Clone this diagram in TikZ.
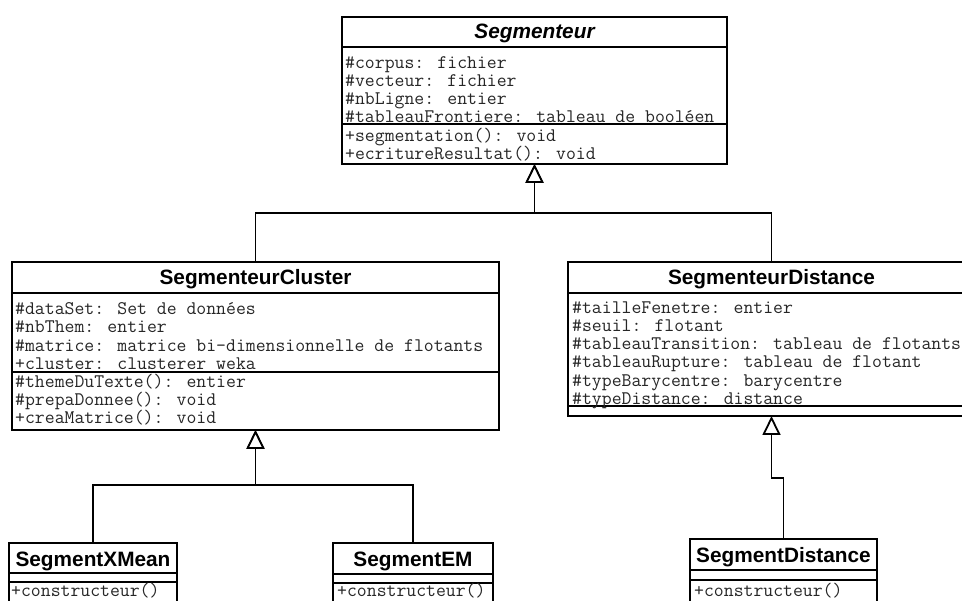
\documentclass[tikz,border=0pt]{standalone}
\usepackage{fontspec}
\newfontfamily\titlefont{Liberation Sans}
\usetikzlibrary{arrows.meta}
\tikzset{
  cls/.style={draw, line width=1.8pt, inner sep=0pt, outer sep=0pt, anchor=north west, fill=white},
  sepline/.style={line width=1.8pt},
  attr/.style={anchor=base west, inner sep=0pt, font=\fontsize{19.2}{20}\selectfont\ttfamily, text=black!85},
  ttl/.style={anchor=base, inner sep=0pt, font=\fontsize{20.8}{22}\selectfont\titlefont\bfseries},
  gen/.style={line width=1.8pt, -{Triangle[open, length=19pt, width=18pt, fill=white]}}
}
\begin{document}
\begin{tikzpicture}[x=1pt,y=-1pt]
\useasboundingbox (0,0) rectangle (962,601);
\clip (0,0) rectangle (962,601);

% ---- Segmenteur
\node[cls, minimum width=385pt, minimum height=147pt] (seg) at (342,17) {};
\draw[sepline] (342,47) -- (727,47);
\draw[sepline] (342,124) -- (727,124);
\node[ttl] (seg-t) at (534.5,39) {\itshape Segmenteur};
\node[attr] (seg-a1) at (345,69) {\#corpus: fichier};
\node[attr] (seg-a2) at (345,87) {\#vecteur: fichier};
\node[attr] (seg-a3) at (345,105) {\#nbLigne: entier};
\node[attr] (seg-a4) at (345,123) {\#tableauFrontiere: tableau de booléen};
\node[attr] (seg-m1) at (345,142) {+segmentation(): void};
\node[attr] (seg-m2) at (345,160) {+ecritureResultat(): void};

% ---- SegmenteurCluster
\node[cls, minimum width=487pt, minimum height=168pt] (clu) at (12,262) {};
\draw[sepline] (12,293) -- (499,293);
\draw[sepline] (12,372) -- (499,372);
\node[ttl] (clu-t) at (255.5,285) {SegmenteurCluster};
\node[attr] (clu-a1) at (15,315) {\#dataSet: Set de données};
\node[attr] (clu-a2) at (15,333) {\#nbThem: entier};
\node[attr] (clu-a3) at (15,352) {\#matrice: matrice bi-dimensionnelle de flotants};
\node[attr] (clu-a4) at (15,370) {+cluster: clusterer weka};
\node[attr] (clu-m1) at (15,388) {\#themeDuTexte(): entier};
\node[attr] (clu-m2) at (15,406) {\#prepaDonnee(): void};
\node[attr] (clu-m3) at (15,424) {+creaMatrice(): void};

% ---- SegmenteurDistance
\node[cls, minimum width=407pt, minimum height=154pt] (dist) at (568,262) {};
\draw[sepline] (568,293) -- (975,293);
\draw[sepline] (568,406) -- (975,406);
\node[ttl] (dist-t) at (771.5,285) {SegmenteurDistance};
\node[attr] (dist-a1) at (572,314) {\#tailleFenetre: entier};
\node[attr] (dist-a2) at (572,332) {\#seuil: flotant};
\node[attr] (dist-a3) at (572,350) {\#tableauTransition: tableau de flotants};
\node[attr] (dist-a4) at (572,368) {\#tableauRupture: tableau de flotant};
\node[attr] (dist-a5) at (572,387) {\#typeBarycentre: barycentre};
\node[attr] (dist-a6) at (572,405) {\#typeDistance: distance};

% ---- SegmentXMean
\node[cls, minimum width=168pt, minimum height=107pt] (xm) at (9,543) {};
\draw[sepline] (9,573) -- (177,573);
\draw[sepline] (9,582) -- (177,582);
\node[ttl] (xm-t) at (93,566) {SegmentXMean};
\node[attr] (xm-m1) at (11,597) {+constructeur()};

% ---- SegmentEM
\node[cls, minimum width=160pt, minimum height=107pt] (em) at (333,543) {};
\draw[sepline] (333,574) -- (493,574);
\draw[sepline] (333,583) -- (493,583);
\node[ttl] (em-t) at (413,566) {SegmentEM};
\node[attr] (em-m1) at (337,597) {+constructeur()};

% ---- SegmentDistance
\node[cls, minimum width=187pt, minimum height=111pt] (sd) at (690,539) {};
\draw[sepline] (690,570) -- (877,570);
\draw[sepline] (690,580) -- (877,580);
\node[ttl] (sd-t) at (783.5,562) {SegmentDistance};
\node[attr] (sd-m1) at (694,596) {+constructeur()};

% ---- generalisation connectors
\draw[gen] (clu.north) -- ++(0,-49) -| (seg.south);
\draw[gen] (dist.north) -- ++(0,-49) -| (seg.south);
\draw[gen] (xm.north) -- ++(0,-58) -| (clu.south);
\draw[gen] (em.north) -- ++(0,-58) -| (clu.south);
\draw[gen] (sd.north) -- ++(0,-61) -| (dist.south);
\end{tikzpicture}
\end{document}
